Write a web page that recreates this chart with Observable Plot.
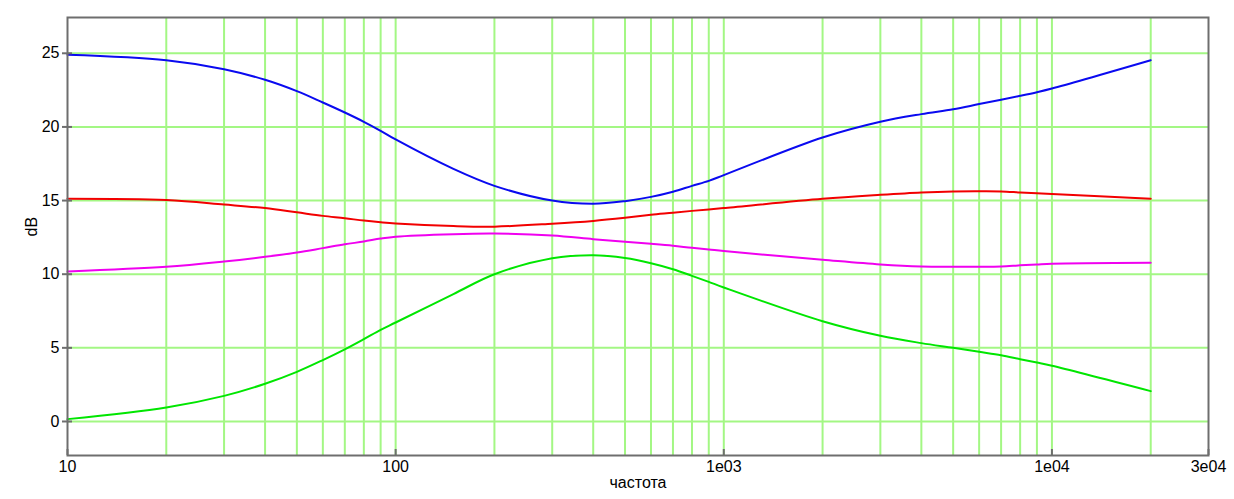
<!DOCTYPE html>
<html>
<head>
<meta charset="utf-8">
<script src="https://cdn.jsdelivr.net/npm/d3@7"></script>
<script src="https://cdn.jsdelivr.net/npm/@observablehq/plot@0.6"></script>
<style>
  html, body { margin: 0; padding: 0; background: #fff; }
  #chart svg { display: block; }
</style>
</head>
<body>
<div id="chart"></div>
<script>
const freq = [10, 20, 30, 40, 50, 60, 70, 80, 90, 100, 150, 200, 300, 400, 500, 600, 700, 800, 900, 1000, 2000, 3000, 4000, 5000, 6000, 7000, 8000, 9000, 10000, 20000];
const blue = [24.9, 24.53, 23.92, 23.2, 22.43, 21.66, 20.98, 20.35, 19.74, 19.15, 17.15, 16.0, 15.0, 14.78, 14.96, 15.25, 15.6, 16.0, 16.34, 16.73, 19.28, 20.35, 20.87, 21.2, 21.55, 21.84, 22.11, 22.36, 22.61, 24.53];
const red = [15.12, 15.03, 14.73, 14.49, 14.2, 13.96, 13.8, 13.64, 13.53, 13.45, 13.27, 13.23, 13.43, 13.62, 13.83, 14.03, 14.17, 14.3, 14.4, 14.49, 15.12, 15.39, 15.55, 15.62, 15.63, 15.62, 15.55, 15.49, 15.44, 15.12];
const magenta = [10.19, 10.5, 10.86, 11.18, 11.47, 11.77, 12.03, 12.22, 12.42, 12.55, 12.72, 12.76, 12.63, 12.38, 12.2, 12.06, 11.93, 11.79, 11.68, 11.57, 10.98, 10.66, 10.52, 10.5, 10.5, 10.52, 10.6, 10.66, 10.71, 10.77];
const green = [0.16, 0.95, 1.74, 2.56, 3.37, 4.17, 4.9, 5.59, 6.22, 6.72, 8.65, 10.0, 11.08, 11.28, 11.1, 10.75, 10.34, 9.89, 9.48, 9.1, 6.81, 5.82, 5.32, 5.0, 4.73, 4.5, 4.23, 4.0, 3.78, 2.06];

const seriesNames = ["blue", "red", "magenta", "green"];
const seriesValues = [blue, red, magenta, green];
const seriesColors = ["#0a0af0", "#f20000", "#f000f0", "#00e600"];

const xTicks = [10, 100, 1000, 10000, 30000];
const xTickLabels = ["10", "100", "1e03", "1e04", "3e04"];
const xGrid = [20, 30, 40, 50, 60, 70, 80, 90, 100, 200, 300, 400, 500, 600, 700, 800, 900, 1000, 2000, 3000, 4000, 5000, 6000, 7000, 8000, 9000, 10000, 20000];
const yTicks = [0, 5, 10, 15, 20, 25];

const rows = seriesNames.flatMap((s, i) => freq.map((f, j) => ({series: s, f, v: seriesValues[i][j], color: seriesColors[i]})));

const gridColor = "#a3f784";
const axisColor = "#6e6e6e";

const chart = Plot.plot({
  width: 1234,
  height: 499,
  marginLeft: 67,
  marginRight: 26,
  marginTop: 17,
  marginBottom: 44,
  style: {fontFamily: "'Liberation Sans', Arial, sans-serif", fontSize: "16px", color: "#000", background: "#fff"},
  x: {type: "log", domain: [10, 30000]},
  y: {domain: [-2.31, 27.43]},
  marks: [
    Plot.ruleX(xGrid, {x: d => d, stroke: gridColor, strokeWidth: 2}),
    Plot.ruleY(yTicks, {y: d => d, stroke: gridColor, strokeWidth: 2}),
    Plot.line(rows, {x: "f", y: "v", z: "series", stroke: "color", strokeWidth: 2, curve: "catmull-rom"}),
    Plot.frame({stroke: axisColor, strokeWidth: 2}),
    Plot.axisY({anchor: "left", ticks: yTicks, tickSize: 10, dx: 5, stroke: axisColor, strokeWidth: 2, tickFormat: () => "", label: null}),
    Plot.axisY({anchor: "left", ticks: yTicks, tickSize: 0, tickPadding: 8, fontSize: 16, fill: "#000", label: null}),
    Plot.axisX({anchor: "bottom", ticks: xTicks, tickSize: 6, dy: -6, stroke: axisColor, strokeWidth: 2, tickFormat: () => "", label: null}),
    Plot.axisX({anchor: "bottom", ticks: xTicks, tickSize: 0, tickPadding: 5, fontSize: 16, fill: "#000", label: null,
      tickFormat: d => xTickLabels[xTicks.indexOf(d)]}),
    Plot.text(["dB"], {frameAnchor: "left", dx: -36, rotate: -90, text: d => d, fontSize: 16, fill: "#000"}),
    Plot.text(["частота"], {frameAnchor: "bottom", dy: 32, text: d => d, fontSize: 16, fill: "#000"})
  ]
});
document.getElementById("chart").appendChild(chart);
</script>
</body>
</html>
